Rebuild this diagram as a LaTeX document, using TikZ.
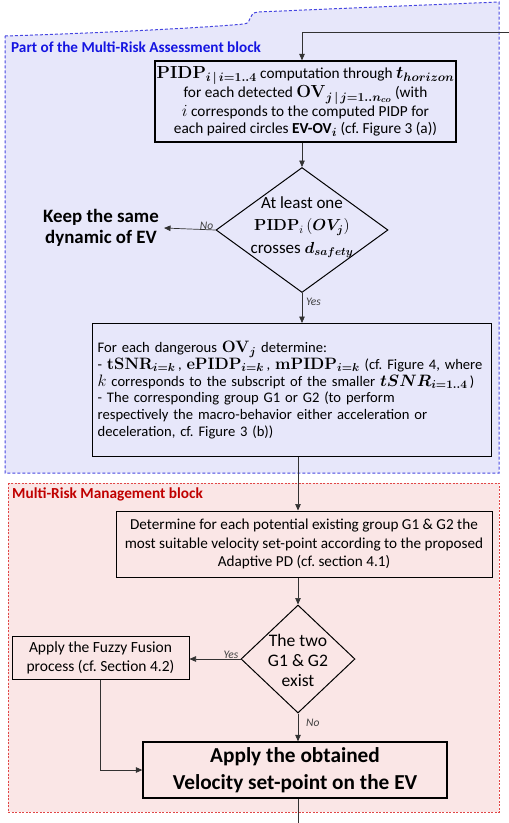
\RequirePackage{fix-cm}
\documentclass[tikz,border=0pt]{standalone}
\usepackage[no-math]{fontspec}
\setmainfont{Carlito}
\usepackage{amsmath}
\usepackage{bm}
\usetikzlibrary{shapes.geometric,arrows.meta}
\definecolor{bluebg}{RGB}{231,231,250}
\definecolor{blueline}{RGB}{70,70,225}
\definecolor{bluetext}{RGB}{20,20,225}
\definecolor{redbg}{RGB}{250,230,230}
\definecolor{redline}{RGB}{225,70,70}
\definecolor{redtext}{RGB}{192,0,0}
\definecolor{conn}{RGB}{50,50,50}
\newcommand\mth[2]{{\fontsize{#1}{#1}\selectfont$#2$}}
\frenchspacing
\begin{document}
\begin{tikzpicture}[x=1pt,y=-1pt,
  box/.style={draw=black, line width=1pt, inner sep=0pt, align=center},
  dia/.style={draw=black, line width=1pt, diamond, inner sep=0pt},
  arr/.style={draw=conn, line width=0.7pt, -{Triangle[length=6.5pt,width=5.5pt]}},
  plain/.style={draw=conn, line width=0.7pt},
  lbl/.style={font=\fontsize{11.5}{13}\selectfont\itshape, text=black!75, inner sep=1pt},
  txt/.style={inner sep=0pt, align=center}]
\useasboundingbox (0,0) rectangle (509,823);

% regions
\path[fill=bluebg, draw=blueline, line width=1pt, dash pattern=on 3pt off 2pt]
  (5,36) .. controls (100,33) and (200,28) .. (244,24)
  .. controls (253,23) and (247,13) .. (258,12)
  .. controls (350,8) and (450,4) .. (499,2) -- (499,473) -- (5,473) -- cycle;
\path[fill=redbg, draw=redline, line width=0.6pt, dash pattern=on 2pt off 1.5pt]
  (8,483) rectangle (499,812);

\node[anchor=west, inner sep=0pt, text=bluetext, font=\fontsize{15.2}{18}\selectfont\bfseries] (lblA) at (11,47) {Part of the Multi-Risk Assessment block};
\node[anchor=west, inner sep=0pt, text=redtext, font=\fontsize{15.3}{18}\selectfont\bfseries] (lblB) at (12,494) {Multi-Risk Management block};

% nodes
\node[box, line width=1.3pt, minimum width=301, minimum height=81, font=\fontsize{15.3}{17.3}\selectfont] (b1) at (305.5,101.5)
 {\mth{17.5}{\mathbf{PIDP}_{\bm{i\,|\,i=1..4}}} computation through \mth{17.5}{\bm{t_{horizon}}}\\
  for each detected \mth{17.5}{\mathbf{OV}_{\bm{j\,|\,j=1..n_{co}}}} (with\\
  \mth{17}{i} corresponds to the computed PIDP for\\
  each paired circles \textbf{EV-OV}\mth{17}{_{\bm{i}}} (cf. Figure 3 (a))};

\node[dia, minimum width=172, minimum height=125] (d1) at (302,230) {};
\node[txt, font=\fontsize{17}{22.5}\selectfont] (d1t) at (302,227)
 {At least one\\ \mth{16}{\mathbf{PIDP}_{i}\,(\bm{OV_j})}\\ crosses \mth{16}{\bm{d_{safety}}}};

\node[txt, anchor=east, inner xsep=5pt, font=\fontsize{18.9}{21}\selectfont\bfseries] (keep) at (164,228) {Keep the same\\dynamic of EV};

\node[box, line width=1.3pt, align=left, text width=389, inner xsep=5, minimum height=133, anchor=north west, font=\fontsize{14.6}{16.7}\selectfont] (b2) at (92,323)
 {For each dangerous \mth{16.5}{\mathbf{OV}_{\bm j}} determine:\\
 - \mth{16.5}{\mathbf{tSNR}_{\bm{i=k}}}\,, \mth{16.5}{\mathbf{ePIDP}_{\bm{i=k}}}\,, \mth{16.5}{\mathbf{mPIDP}_{\bm{i=k}}} (cf. Figure 4, where\\
 \mth{16.5}{k} corresponds to the subscript of the smaller \mth{16.5}{\bm{tSNR_{i=1..4}}}\,)\\
 - The corresponding group G1 or G2 (to perform\\
 respectively the macro-behavior either acceleration or\\
 deceleration, cf. Figure 3 (b))\par\vspace{12pt}};

\node[box, minimum width=376, minimum height=66, font=\fontsize{15.2}{18.5}\selectfont] (b3) at (304,544)
 {Determine for each potential existing group G1 \& G2 the\\
  most suitable velocity set-point according to the proposed\\
  Adaptive PD (cf. section 4.1)};

\node[dia, minimum width=114, minimum height=108] (d2) at (298,659) {};
\node[txt, font=\fontsize{17.6}{20}\selectfont] (d2t) at (298,660) {The two\\G1 \& G2\\exist};

\node[box, minimum width=177, minimum height=43, font=\fontsize{15.5}{19}\selectfont] (b4) at (100.5,657.5)
 {Apply the Fuzzy Fusion\\process (cf. Section 4.2)};

\node[box, line width=1.3pt, minimum width=304, minimum height=56, font=\fontsize{21.3}{27}\selectfont\bfseries] (b5) at (295,770)
 {Apply the obtained\\Velocity set-point on the EV};

% connectors
\coordinate (inc) at (509,32);
\coordinate (outc) at (298,823);
\draw[arr] (inc) -| (b1.north -| d1.north);
\draw[arr] (b1.south -| d1.north) -- (d1.north);
\draw[arr] (d1.west) -- (keep.east);
\node[lbl, anchor=south east] (no1) at ([xshift=-1pt,yshift=-1pt]d1.west) {No};
\draw[arr] (d1.south) -- (d1.south |- b2.north);
\node[lbl, anchor=west] (yes1) at ([xshift=3pt,yshift=-9pt]d1.south) {Yes};
\draw[arr] (b2.south -| d2.north) -- (b3.north -| d2.north);
\draw[arr] (b3.south -| d2.north) -- (d2.north);
\draw[arr] (d2.west) -- (d2.west -| b4.east);
\node[lbl, anchor=south east] (yes2) at ([xshift=-1pt,yshift=-1pt]d2.west) {Yes};
\draw[arr] (d2.south) -- (d2.south |- b5.north);
\node[lbl, anchor=west] (no2) at ([xshift=7pt,yshift=-9pt]d2.south) {No};
\draw[arr] (b4.south) |- (b5.west);
\draw[plain] (b5.south -| d2.south) -- (outc);
\end{tikzpicture}
\end{document}
